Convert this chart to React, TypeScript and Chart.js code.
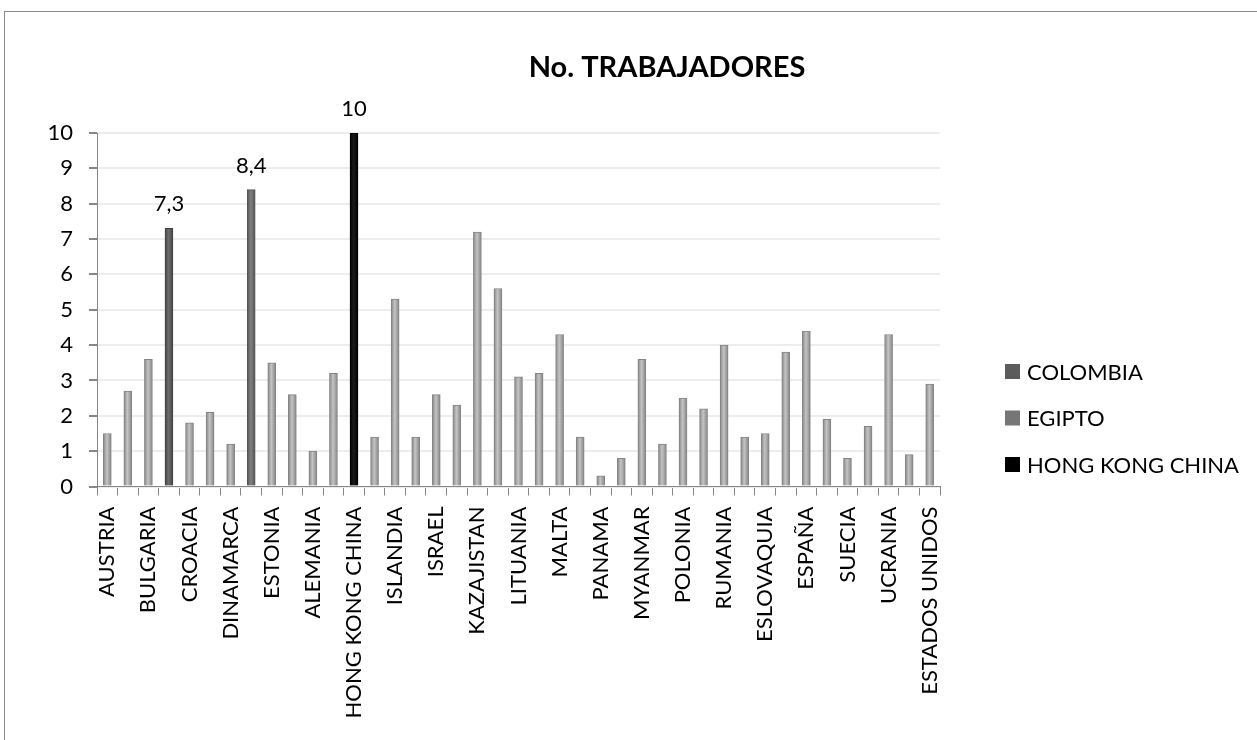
import React, { useEffect, useRef } from "react";
import { Chart, registerables } from "chart.js";

Chart.register(...registerables);

const TITLE = "No. TRABAJADORES";

const CATEGORIES = [
  "AUSTRIA", "BÉLGICA", "BULGARIA", "COLOMBIA", "CROACIA", "REPÚBLICA CHECA",
  "DINAMARCA", "EGIPTO", "ESTONIA", "FINLANDIA", "ALEMANIA", "GRECIA",
  "HONG KONG CHINA", "HUNGRÍA", "ISLANDIA", "INDONESIA", "ISRAEL", "ITALIA",
  "KAZAJISTAN", "COREA", "LITUANIA", "LUXEMBURGO", "MALTA", "MÉXICO",
  "PANAMA", "PERÚ", "MYANMAR", "FILIPINAS", "POLONIA", "PORTUGAL",
  "RUMANIA", "RUSIA", "ESLOVAQUIA", "ESLOVENIA", "ESPAÑA", "SUIZA",
  "SUECIA", "TURQUÍA", "UCRANIA", "REINO UNIDO", "ESTADOS UNIDOS",
];

// light grey bars (series without legend entry)
const OTHER_VALUES: (number | null)[] = [
  1.5, 2.7, 3.6, null, 1.8, 2.1, 1.2, null, 3.5, 2.6, 1.0, 3.2, null, 1.4,
  5.3, 1.4, 2.6, 2.3, 7.2, 5.6, 3.1, 3.2, 4.3, 1.4, 0.3, 0.8, 3.6, 1.2,
  2.5, 2.2, 4.0, 1.4, 1.5, 3.8, 4.4, 1.9, 0.8, 1.7, 4.3, 0.9, 2.9,
];

const HIGHLIGHT_SERIES = ["COLOMBIA", "EGIPTO", "HONG KONG CHINA"];
const HIGHLIGHT_VALUES = [7.3, 8.4, 10];
const HIGHLIGHT_COLORS = ["#5c5c5c", "#767676", "#000000"];
const HIGHLIGHT_EDGES = ["#444444", "#555555", "#000000"];
const HIGHLIGHT_CENTERS = ["#6c6c6c", "#808080", "#1a1a1a"];

const OTHER_COLOR = "#acacac";
const OTHER_EDGE = "#858585";
const OTHER_CENTER = "#c4c4c4";

const Y_TICKS_MAX = 10;

const FONT = "Lato, 'Open Sans', 'Liberation Sans', sans-serif";

function cylinder(edge: string, center: string) {
  return (c: any) => {
    const chart = c.chart;
    const xs = chart && chart.scales && chart.scales.x;
    if (!xs || typeof c.dataIndex !== "number" || !chart.ctx) return center;
    const x = xs.getPixelForValue(c.dataIndex);
    if (!Number.isFinite(x)) return center;
    const g = chart.ctx.createLinearGradient(x - 4, 0, x + 4, 0);
    g.addColorStop(0, edge);
    g.addColorStop(0.45, center);
    g.addColorStop(1, edge);
    return g;
  };
}

const overlayPlugin = {
  id: "overlay",
  afterDatasetsDraw(chart: any) {
    const ctx = chart.ctx;
    chart.data.datasets.forEach((ds: any, di: number) => {
      if (!ds.showValue) return;
      const meta = chart.getDatasetMeta(di);
      meta.data.forEach((el: any, i: number) => {
        const v = ds.data[i];
        if (v == null) return;
        ctx.save();
        ctx.font = `22px ${FONT}`;
        ctx.fillStyle = "#000";
        ctx.textAlign = "center";
        ctx.textBaseline = "alphabetic";
        ctx.fillText(String(v).replace(".", ","), el.x, el.y - 17);
        ctx.restore();
      });
    });
  },
  afterDraw(chart: any) {
    const ctx = chart.ctx;
    // title
    ctx.save();
    ctx.font = `bold 29px ${FONT}`;
    ctx.fillStyle = "#000";
    ctx.textAlign = "center";
    ctx.textBaseline = "middle";
    ctx.fillText(TITLE, 667, 68);
    ctx.restore();
    // legend
    let row = 0;
    chart.data.datasets.forEach((ds: any) => {
      if (!ds.inLegend) return;
      const cy = 371.5 + row * 46.5;
      ctx.save();
      ctx.fillStyle = ds.legendColor;
      ctx.fillRect(1005, cy - 7.5, 15, 15);
      ctx.font = `22px ${FONT}`;
      ctx.fillStyle = "#000";
      ctx.textAlign = "left";
      ctx.textBaseline = "middle";
      ctx.fillText(ds.label, 1027, cy + 1);
      ctx.restore();
      row++;
    });
  },
};

export default function App() {
  const canvasRef = useRef<HTMLCanvasElement | null>(null);

  useEffect(() => {
    if (!canvasRef.current) return;
    const datasets: any[] = [
      {
        label: "OTROS",
        data: OTHER_VALUES,
        backgroundColor: cylinder(OTHER_EDGE, OTHER_CENTER),
        borderColor: OTHER_EDGE,
        borderWidth: 1,
        barThickness: 8,
        inLegend: false,
        legendColor: OTHER_COLOR,
      },
      ...HIGHLIGHT_SERIES.map((name, k) => ({
        label: name,
        data: CATEGORIES.map((c) => (c === name ? HIGHLIGHT_VALUES[k] : null)),
        backgroundColor: cylinder(HIGHLIGHT_EDGES[k], HIGHLIGHT_CENTERS[k]),
        borderColor: HIGHLIGHT_EDGES[k],
        borderWidth: 1,
        barThickness: 8,
        inLegend: true,
        showValue: true,
        legendColor: HIGHLIGHT_COLORS[k],
      })),
    ];

    const chart = new Chart(canvasRef.current, {
      type: "bar",
      data: { labels: CATEGORIES, datasets },
      options: {
        animation: false,
        responsive: false,
        devicePixelRatio: 1,
        events: [],
        layout: { padding: { left: 20, right: 317, top: 133, bottom: 0 } },
        plugins: {
          legend: { display: false },
          title: { display: false },
          tooltip: { enabled: false },
        },
        scales: {
          x: {
            stacked: true,
            grid: {
              offset: true,
              drawOnChartArea: false,
              tickLength: 9,
              color: "#868686",
            },
            border: { color: "#868686", width: 1 },
            ticks: {
              autoSkip: false,
              minRotation: 90,
              maxRotation: 90,
              padding: 11,
              color: "#000",
              font: { family: FONT, size: 22 },
              callback: (_v: any, i: number) => (i % 2 === 0 ? CATEGORIES[i] : ""),
            },
            afterFit: (s: any) => {
              s.height = 253.5;
            },
          },
          y: {
            stacked: true,
            min: 0,
            max: Y_TICKS_MAX,
            ticks: {
              stepSize: 1,
              padding: 16,
              color: "#000",
              font: { family: FONT, size: 22 },
            },
            grid: {
              color: "#ededed",
              lineWidth: 2,
              tickLength: 8,
              tickColor: "#868686",
            },
            border: { color: "#868686", width: 1 },
            afterFit: (s: any) => {
              s.width = 77;
            },
          },
        },
      } as any,
      plugins: [overlayPlugin],
    });
    return () => chart.destroy();
  }, []);

  return (
    <div style={{ position: "absolute", left: 0, top: 0, width: 1257, height: 740, background: "#fff", overflow: "hidden" }}>
      <div
        style={{
          position: "absolute",
          left: 4,
          top: 11,
          width: 1253,
          height: 729,
          borderTop: "1px solid #8a8a8a",
          borderLeft: "1px solid #8a8a8a",
          boxSizing: "border-box",
        }}
      />
      <canvas ref={canvasRef} width={1257} height={740} style={{ position: "absolute", left: 0, top: 0 }} />
    </div>
  );
}
